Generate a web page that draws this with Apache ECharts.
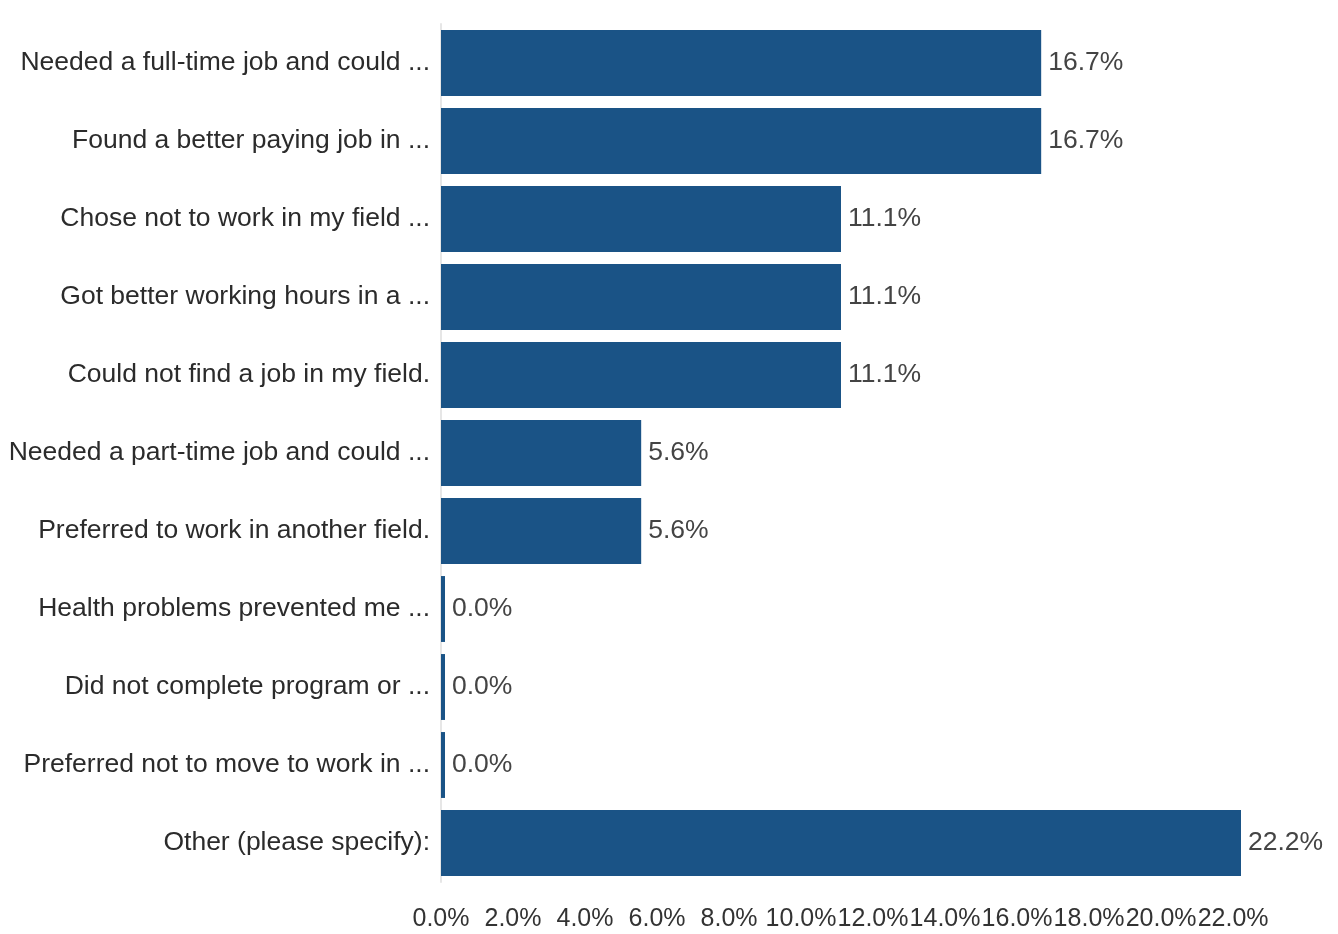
<!DOCTYPE html>
<html>
<head>
<meta charset="utf-8">
<script src="https://cdn.jsdelivr.net/npm/echarts@6/dist/echarts.min.js"></script>
<style>
html,body{margin:0;padding:0;background:#fff;}
#chart{width:1338px;height:934px;}
</style>
</head>
<body>
<div id="chart"></div>
<script>
const categories = [
  "Needed a full-time job and could ...",
  "Found a better paying job in ...",
  "Chose not to work in my field ...",
  "Got better working hours in a ...",
  "Could not find a job in my field.",
  "Needed a part-time job and could ...",
  "Preferred to work in another field.",
  "Health problems prevented me ...",
  "Did not complete program or ...",
  "Preferred not to move to work in ...",
  "Other (please specify):"
];
const values = [16.67, 16.67, 11.11, 11.11, 11.11, 5.56, 5.56, 0.0, 0.0, 0.0, 22.22];
const xTickInterval = 2;
const xMax = 22.22;

const chart = echarts.init(document.getElementById('chart'));
chart.setOption({
  animation: false,
  textStyle: { fontFamily: 'Liberation Sans, Arial, sans-serif' },
  grid: { left: 441, right: 97, top: 24, bottom: 52, containLabel: false },
  xAxis: {
    type: 'value',
    min: 0,
    max: xMax,
    interval: xTickInterval,
    axisLine: { show: false },
    axisTick: { show: false },
    splitLine: { show: false },
    axisLabel: {
      show: true,
      interval: 0,
      showMaxLabel: false,
      hideOverlap: false,
      margin: 25,
      fontSize: 25,
      color: '#333',
      formatter: v => v.toFixed(1) + '%'
    }
  },
  yAxis: {
    type: 'category',
    data: categories,
    inverse: true,
    axisLine: { show: true, lineStyle: { color: '#e6e6e6', width: 2 } },
    axisTick: { show: false },
    axisLabel: { fontSize: 26.5, color: '#2b2b2b', margin: 11, interval: 0, padding: [3, 0, 0, 0] }
  },
  series: [{
    type: 'bar',
    data: values,
    barCategoryGap: '15.5%',
    barMinHeight: 4,
    itemStyle: { color: '#1a5386' },
    label: {
      show: true,
      position: 'right',
      distance: 7,
      fontSize: 26.5,
      color: '#444',
      padding: [3, 0, 0, 0],
      formatter: p => p.value.toFixed(1) + '%'
    }
  }]
});
</script>
</body>
</html>
